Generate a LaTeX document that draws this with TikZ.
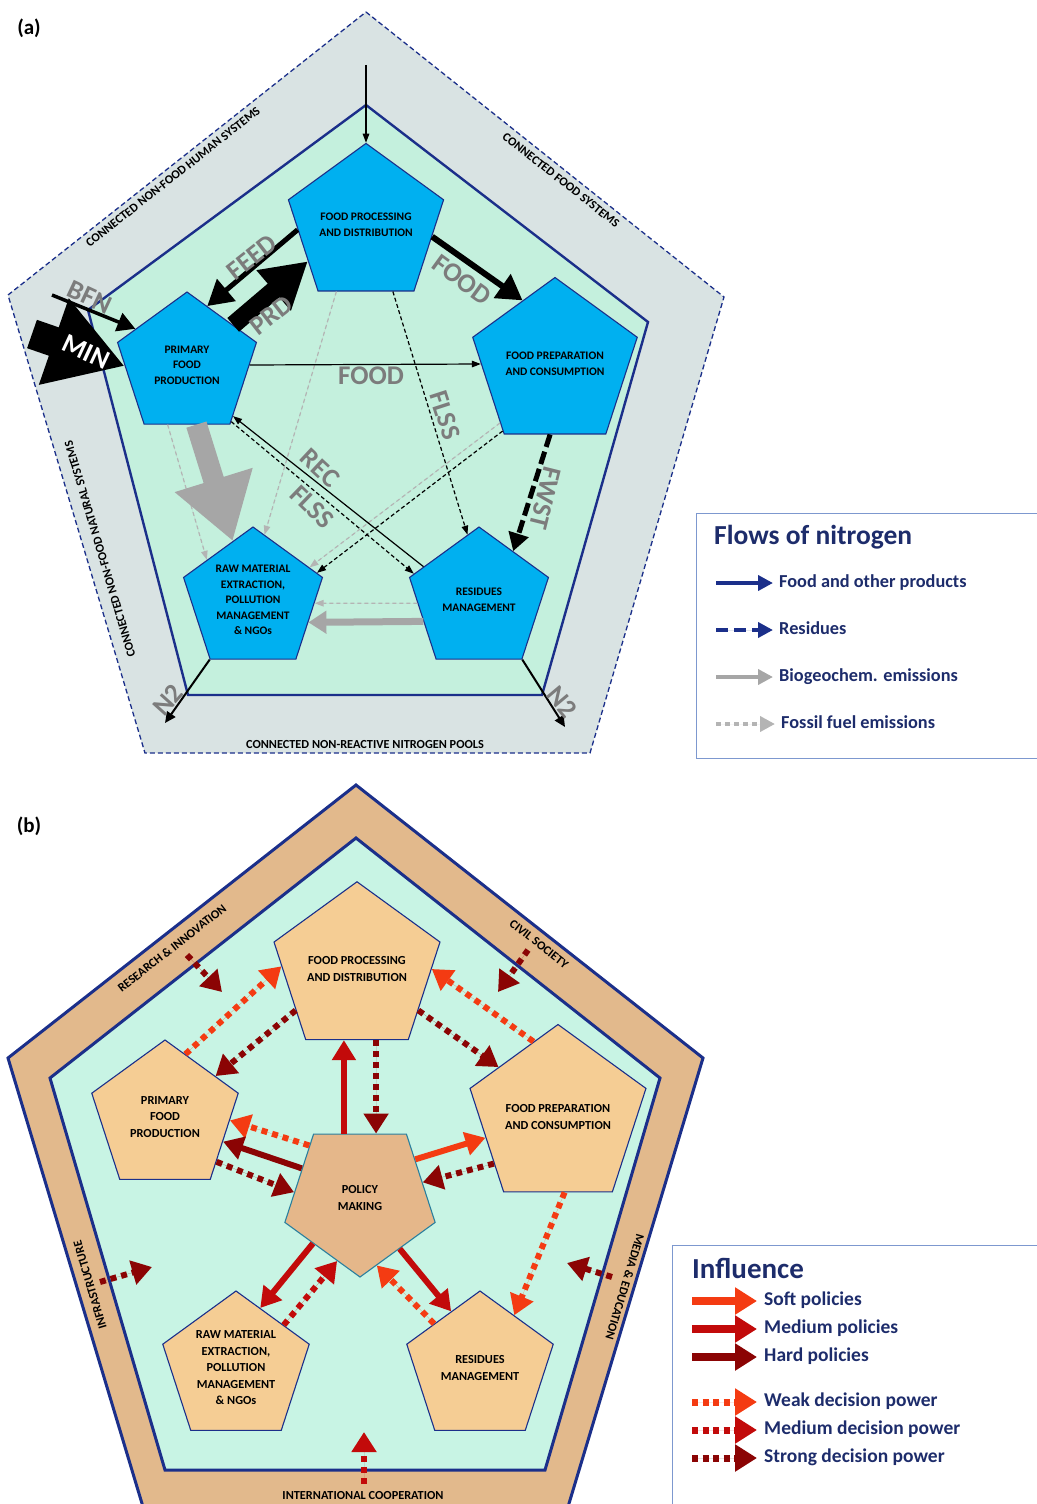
\documentclass[tikz,border=0pt]{standalone}
\usepackage{fontspec}
\setmainfont{Carlito}
\usetikzlibrary{arrows.meta,shapes.geometric}

% colours
\definecolor{navy}{HTML}{1B2F8A}
\definecolor{bandgray}{HTML}{D9E3E3}
\definecolor{minta}{HTML}{C4F0DD}
\definecolor{mintb}{HTML}{C8F4E4}
\definecolor{cyanbox}{HTML}{00B0F0}
\definecolor{tanband}{HTML}{E2B98C}
\definecolor{tanbox}{HTML}{F5CD94}
\definecolor{tanpol}{HTML}{E5B78A}
\definecolor{polline}{HTML}{2A7F9E}
\definecolor{lblgray}{HTML}{7C7C7C}
\definecolor{biogray}{HTML}{A6A6A6}
\definecolor{fosgray}{HTML}{B4B4B4}
\definecolor{legtext}{HTML}{1D2C6B}
\definecolor{legframe}{HTML}{7D98CF}
\definecolor{softred}{HTML}{F43B12}
\definecolor{medred}{HTML}{C20A0A}
\definecolor{hardred}{HTML}{8B0404}

\tikzset{
  boxa/.style={regular polygon, regular polygon sides=5, minimum size=146pt, inner sep=0pt,
    draw=navy, line width=1.1pt, fill=cyanbox, align=center,
    font=\fontsize{11.5}{15.5}\selectfont\bfseries},
  boxb/.style={boxa, minimum size=154pt, fill=tanbox, font=\fontsize{12.3}{16.5}\selectfont\bfseries},
  polbox/.style={boxb, minimum size=158pt, shape border rotate=180, fill=tanpol, draw=polline},
  flowlbl/.style={text=lblgray, inner sep=0pt, font=\fontsize{27}{27}\selectfont\bfseries},
  bandlbl/.style={inner sep=0pt, font=\fontsize{12.3}{12.3}\selectfont\bfseries},
  paneltag/.style={inner sep=0pt, font=\fontsize{21}{21}\selectfont\bfseries},
  legtitle/.style={inner sep=0pt, text=legtext, font=\fontsize{27.5}{27.5}\selectfont\bfseries},
  legtxt/.style={anchor=west, inner sep=0pt, text=legtext, text height=12.5pt, text depth=4pt,
    font=\fontsize{18.3}{18.3}\selectfont\bfseries},
  legtxtb/.style={legtxt, text height=13pt, text depth=4.5pt, font=\fontsize{19.5}{19.5}\selectfont\bfseries},
  % nitrogen flows
  thinflow/.style={line width=1.2pt, -{Triangle[length=9pt,width=6.5pt]}},
  resthin/.style={thinflow, dash pattern=on 4pt off 2.5pt},
  fosthin/.style={thinflow, draw=fosgray, fill=fosgray, dash pattern=on 4pt off 3pt},
  feedarrow/.style={line width=5pt, -{Triangle[length=25pt,width=28pt]}},
  prdarrow/.style={line width=18pt, -{Triangle[length=45pt,width=50pt]}},
  minarrow/.style={line width=30pt, -{Triangle[length=75pt,width=86pt]}},
  bfnarrow/.style={line width=3.5pt, -{Triangle[length=18pt,width=19pt]}},
  fwstarrow/.style={line width=5pt, dash pattern=on 13pt off 5pt, -{Triangle[length=18pt,width=20pt]}},
  bigbio/.style={draw=biogray, line width=21pt, -{Triangle[length=64pt,width=77pt]}},
  bioarrow/.style={draw=biogray, line width=7pt, -{Triangle[length=18pt,width=22pt]}},
  n2arrow/.style={line width=2pt, -{Triangle[length=11pt,width=10pt]}},
  % legend a
  legarrow/.style={line width=4.5pt, shorten >=6pt, -{Triangle[length=15pt,width=15pt]}},
  % influence
  infsolid/.style={line width=6pt, -{Triangle[length=20pt,width=23pt]}},
  infdot/.style={line width=6pt, dash pattern=on 6pt off 5pt, -{Triangle[length=20pt,width=24pt]}},
  softsolid/.style={infsolid, draw=softred, fill=softred},
  medsolid/.style={infsolid, draw=medred, fill=medred},
  hardsolid/.style={infsolid, draw=hardred, fill=hardred},
  weakdot/.style={infdot, draw=softred, fill=softred},
  meddot/.style={infdot, draw=medred, fill=medred},
  strongdot/.style={infdot, draw=hardred, fill=hardred},
  legsolid/.style={line width=8pt, shorten >=7pt, -{Triangle[length=22pt,width=26pt]}},
  legdot/.style={line width=7pt, shorten >=7pt, dash pattern=on 6pt off 4.5pt, -{Triangle[length=22pt,width=26pt]}}
}

\begin{document}
\begin{tikzpicture}[x=1pt, y=-1pt, line join=miter]
	\useasboundingbox (0,0) rectangle (1036,1504);

	% Panel (a)
	\node[paneltag] (taga) at (29,28) {(a)};
	\draw[fill=bandgray, draw=navy, line width=1.3pt, dash pattern=on 5pt off 3pt]
		(366,12) -- (724,297) -- (590,753) -- (145,753) -- (8,295) -- cycle;
	\draw[fill=minta, draw=navy, line width=2.4pt]
		(366,105) -- (648,322) -- (542,695) -- (188,695) -- (88,310) -- cycle;

	\node[bandlbl, rotate=38.3] (humsys) at (173,177) {CONNECTED NON-FOOD HUMAN SYSTEMS};
	\node[bandlbl, rotate=-38.3] (foodsys) at (561,180) {CONNECTED FOOD SYSTEMS};
	\node[bandlbl, rotate=106.5] (natsys) at (100,549) {CONNECTED NON-FOOD NATURAL SYSTEMS};
	\node[bandlbl] (pools) at (365,745) {CONNECTED NON-REACTIVE NITROGEN POOLS};

	% sectors
	\node[boxa] (fpd) at (366,225) {FOOD PROCESSING\\AND DISTRIBUTION};
	\node[boxa] (pfp) at (187,365) {PRIMARY\\FOOD\\PRODUCTION};
	\node[boxa] (fpc) at (555,364) {FOOD PREPARATION\\AND CONSUMPTION};
	\node[boxa] (rme) at (253,600) {RAW MATERIAL\\EXTRACTION,\\POLLUTION\\MANAGEMENT\\\& NGOs};
	\node[boxa] (rsm) at (479,600) {RESIDUES\\MANAGEMENT};

	\coordinate (topin) at (366,65);
	\coordinate (bfnin) at (52,295);
	\coordinate (minin) at (32,334);
	\coordinate (n2left) at (165,723);
	\coordinate (n2right) at (565,727);

	% emissions
	\draw[fosthin] (fpc.227) -- (rme.30);
	\draw[fosthin] (fpd.246) -- (rme.80);
	\draw[fosthin] (pfp.252) -- (rme.139);
	\draw[fosthin] (rsm.183) -- (rme.357);
	\draw[bigbio] (pfp.279) -- (rme.109);
	\draw[bioarrow] (rsm.201) -- (rme.338);

	% products
	\draw[thinflow] (topin) -- (fpd.corner 1);
	\draw[feedarrow] (fpd.184) -- (pfp.71);
	\draw[prdarrow] (pfp.41) -- (fpd.212);
	\draw[minarrow] (minin) -- (pfp.181);
	\draw[bfnarrow] (bfnin) -- (pfp.145);
	\draw[feedarrow, line width=6pt] (fpd.350) -- (fpc.117);
	\draw[thinflow] (pfp.0) -- (fpc.180);
	\draw[thinflow] (rsm.149) -- (pfp.312);
	\draw[n2arrow] (rme.corner 3) -- (n2left);
	\draw[n2arrow] (rsm.corner 4) -- (n2right);

	% residues
	\draw[resthin] (fpd.292) -- (rsm.100);
	\draw[resthin] (pfp.308) -- (rsm.158);
	\draw[resthin] (fpc.232) -- (rme.23);
	\draw[fwstarrow] (fpc.266) -- (rsm.55);

	% flow labels
	\node[flowlbl, rotate=38] (lfeed) at (252,257) {FEED};
	\node[flowlbl, rotate=38] (lprd) at (271,315) {PRD};
	\node[flowlbl, rotate=-25] (lbfn) at (90,297) {BFN};
	\node[flowlbl, text=white, rotate=-25] (lmin) at (86,352) {MIN};
	\node[flowlbl, rotate=-36] (lfooda) at (462,280) {FOOD};
	\node[flowlbl] (lfoodb) at (371,376) {FOOD};
	\node[flowlbl, rotate=-72] (lflssa) at (445,415) {FLSS};
	\node[flowlbl, rotate=-104] (lfwst) at (545,498) {FWST};
	\node[flowlbl, rotate=-43] (lrec) at (320,468) {REC};
	\node[flowlbl, rotate=-44] (lflssb) at (312,507) {FLSS};
	\node[flowlbl, rotate=48] (lntwoa) at (168,700) {N2};
	\node[flowlbl, rotate=-50] (lntwob) at (562,702) {N2};

	% legend (a)
	\draw[draw=legframe, line width=1pt] (696,513) rectangle (1045,758);
	\node[legtitle, anchor=base west] (flowtitle) at (714,544) {Flows of nitrogen};
	\node[legtxt] (lgfood) at (779,583) {Food and other products};
	\node[legtxt] (lgres) at (779,630) {Residues};
	\node[legtxt] (lgbio) at (779,677) {Biogeochem. emissions};
	\node[legtxt] (lgfos) at (781,724) {Fossil fuel emissions};
	\coordinate (lgfoodin) at (716,583);
	\coordinate (lgresin) at (716,630);
	\coordinate (lgbioin) at (716,677);
	\coordinate (lgfosin) at (716,724);
	\draw[legarrow, draw=navy, fill=navy] (lgfoodin) -- (lgfood.west);
	\draw[legarrow, draw=navy, fill=navy, dash pattern=on 12pt off 6pt] (lgresin) -- (lgres.west);
	\draw[legarrow, draw=biogray, fill=biogray] (lgbioin) -- (lgbio.west);
	\draw[legarrow, draw=fosgray, fill=fosgray, dash pattern=on 5pt off 4pt] (lgfosin) -- (lgfos.west);

	% Panel (b)
	\node[paneltag] (tagb) at (29,826) {(b)};
	\draw[fill=tanband, draw=navy, line width=3pt]
		(356,785) -- (703,1058) -- (552,1560) -- (159,1560) -- (8,1058) -- cycle;
	\draw[fill=mintb, draw=navy, line width=3pt]
		(356,838) -- (660,1078) -- (545,1470) -- (165,1470) -- (50,1078) -- cycle;

	\node[bandlbl, rotate=38.1] (research) at (172,948) {RESEARCH \& INNOVATION};
	\node[bandlbl, rotate=-38.1] (civil) at (539,944) {CIVIL SOCIETY};
	\node[bandlbl, rotate=106.5] (infra) at (90,1285) {INFRASTRUCTURE};
	\node[bandlbl, rotate=-106.6] (media) at (625,1287) {MEDIA \& EDUCATION};
	\node[bandlbl] (intl) at (363,1495) {INTERNATIONAL COOPERATION};

	% actors
	\node[boxb] (fpdb) at (357,969) {FOOD PROCESSING\\AND DISTRIBUTION};
	\node[boxb] (pfpb) at (165,1117) {PRIMARY\\FOOD\\PRODUCTION};
	\node[boxb] (fpcb) at (558,1117) {FOOD PREPARATION\\AND CONSUMPTION};
	\node[boxb] (rmeb) at (236,1368) {RAW MATERIAL\\EXTRACTION,\\POLLUTION\\MANAGEMENT\\\& NGOs};
	\node[boxb] (rsmb) at (480,1368) {RESIDUES\\MANAGEMENT};
	\node[polbox] (pol) at (360,1198) {POLICY\\MAKING};

	% outside influence
	\coordinate (resin) at (187,955);   \coordinate (resout) at (222,992);
	\coordinate (civin) at (528,950);   \coordinate (civout) at (498,992);
	\coordinate (infin) at (100,1282);  \coordinate (infout) at (152,1267);
	\coordinate (medin) at (612,1277);  \coordinate (medout) at (567,1263);
	\coordinate (intin) at (364,1484);  \coordinate (intout) at (364,1432);
	\draw[strongdot] (resin) -- (resout);
	\draw[strongdot] (civin) -- (civout);
	\draw[strongdot] (infin) -- (infout);
	\draw[strongdot] (medin) -- (medout);
	\draw[meddot] (intin) -- (intout);

	% between actors
	\draw[weakdot] (pfpb.72) -- (fpdb.178);
	\draw[strongdot] (fpdb.214) -- (pfpb.39);
	\draw[weakdot] (fpcb.108) -- (fpdb.0);
	\draw[strongdot] (fpdb.326) -- (fpcb.140);
	\draw[weakdot] (fpcb.275) -- (rsmb.57);

	% policy making
	\draw[medsolid] (pol.104) -- (pol.104 |- fpdb.south);
	\draw[strongdot] (pol.76 |- fpdb.south) -- (pol.76);
	\draw[weakdot] (pol.134) -- (pfpb.357);
	\draw[hardsolid] (pol.153) -- (pfpb.337);
	\draw[strongdot] (pfpb.319) -- (pol.175);
	\draw[softsolid] (pol.35) -- (fpcb.196);
	\draw[strongdot] (fpcb.216) -- (pol.14);
	\draw[medsolid] (pol.224) -- (rmeb.68);
	\draw[meddot] (rmeb.42) -- (pol.250);
	\draw[medsolid] (pol.308) -- (rsmb.117);
	\draw[weakdot] (rsmb.136) -- (pol.284);

	% legend (b)
	\draw[draw=legframe, line width=1pt] (672,1245) rectangle (1045,1515);
	\node[legtitle, anchor=base west, font=\fontsize{29}{29}\selectfont\bfseries] (inftitle) at (692,1278) {Influence};
	\node[legtxtb] (lgsoft) at (764,1301) {Soft policies};
	\node[legtxtb] (lgmedp) at (764,1329) {Medium policies};
	\node[legtxtb] (lghard) at (764,1357) {Hard policies};
	\node[legtxtb] (lgweak) at (764,1402) {Weak decision power};
	\node[legtxtb] (lgmedd) at (764,1430) {Medium decision power};
	\node[legtxtb] (lgstrong) at (764,1458) {Strong decision power};
	\coordinate (lgsoftin) at (692,1301);
	\coordinate (lgmedpin) at (692,1329);
	\coordinate (lghardin) at (692,1357);
	\coordinate (lgweakin) at (692,1402);
	\coordinate (lgmeddin) at (692,1430);
	\coordinate (lgstrongin) at (692,1458);
	\draw[legsolid, draw=softred, fill=softred] (lgsoftin) -- (lgsoft.west);
	\draw[legsolid, draw=medred, fill=medred] (lgmedpin) -- (lgmedp.west);
	\draw[legsolid, draw=hardred, fill=hardred] (lghardin) -- (lghard.west);
	\draw[legdot, draw=softred, fill=softred] (lgweakin) -- (lgweak.west);
	\draw[legdot, draw=medred, fill=medred] (lgmeddin) -- (lgmedd.west);
	\draw[legdot, draw=hardred, fill=hardred] (lgstrongin) -- (lgstrong.west);

\end{tikzpicture}
\end{document}
